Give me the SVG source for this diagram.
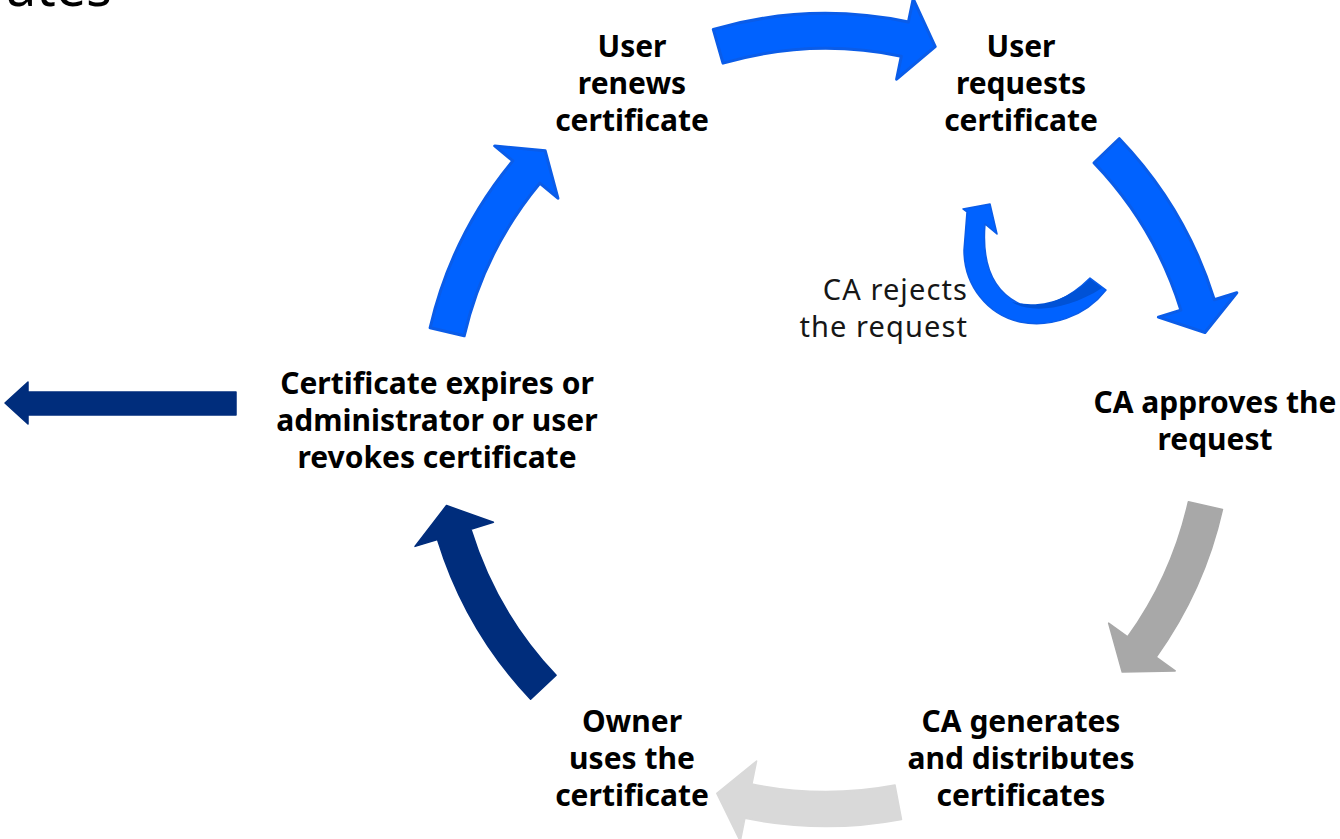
<svg xmlns="http://www.w3.org/2000/svg" width="1340" height="839" viewBox="0 0 1340 839">
  <style>
    .label { font-family: "Noto Sans", "Open Sans", "Liberation Sans", sans-serif; font-weight: 700; font-size: 30px; fill: #000; text-anchor: middle; }
    .note { font-family: "Noto Sans", "Open Sans", "Liberation Sans", sans-serif; font-weight: 400; font-size: 29px; letter-spacing: 1.1px; fill: #161616; text-anchor: end; }
    .title { font-family: "Noto Sans", "Open Sans", "Liberation Sans", sans-serif; font-weight: 400; font-size: 54px; fill: #000; text-anchor: end; }
    .blue { fill: #0062ff; stroke: #0a5ce8; stroke-width: 3; stroke-linejoin: round; }
    .navy { fill: #002d7c; stroke: #002d7c; stroke-width: 1.5; stroke-linejoin: round; }
    .grey { fill: #a8a8a8; stroke: #a8a8a8; stroke-width: 1.5; stroke-linejoin: round; }
    .light { fill: #d9d9d9; stroke: #d9d9d9; stroke-width: 1.5; stroke-linejoin: round; }
  </style>

  <!-- heading, mostly outside the top edge -->
  <text class="title" x="112" y="6">ates</text>

  <!-- curved cycle arrows on a circle centred at (826,420), r = 389 -->
  <g id="connectors">
    <!-- renew -> request -->
    <path class="blue" d="M713.3,29.4 A406.5,406.5 0 0 1 908.4,22.0 L913.2,-1.1 L935.2,46.6 L896.6,79.2 L901.3,56.2 A371.5,371.5 0 0 0 723.0,63.1 Z"/>
    <!-- request -> approve -->
    <path class="blue" d="M1119.4,138.7 A406.5,406.5 0 0 1 1214.3,299.8 L1236.8,292.8 L1205.0,332.5 L1158.4,317.1 L1180.9,310.1 A371.5,371.5 0 0 0 1094.1,162.9 Z"/>
    <!-- approve -> generate -->
    <path class="grey" d="M1222.5,509.4 A406.5,406.5 0 0 1 1156.1,657.2 L1175.2,670.9 L1122.2,672.1 L1108.6,623.1 L1127.7,636.8 A371.5,371.5 0 0 0 1188.4,501.7 Z"/>
    <!-- generate -> use -->
    <path class="light" d="M901.5,819.4 A406.5,406.5 0 0 1 744.9,818.3 L740.3,841.4 L716.8,793.4 L756.6,761.0 L751.9,784.0 A371.5,371.5 0 0 0 895.0,785.0 Z"/>
    <!-- use -> expire/revoke -->
    <path class="navy" d="M530.6,699.3 A406.5,406.5 0 0 1 437.5,539.5 L415.0,546.4 L446.5,505.5 L493.4,522.3 L470.9,529.2 A371.5,371.5 0 0 0 556.1,675.3 Z"/>
    <!-- expire/revoke -> renew -->
    <path class="blue" d="M430.1,327.8 A406.5,406.5 0 0 1 512.8,160.9 L494.7,145.9 L545.2,150.8 L557.9,198.2 L539.8,183.2 A371.5,371.5 0 0 0 464.2,335.8 Z"/>

    <!-- exit arrow on the left -->
    <path class="navy" d="M236,392 L28,392 L28,382 L5,403 L28,424 L28,415 L236,415 Z"/>

    <!-- rejection loop -->
    <path fill="#0062ff" stroke="#0a5ce8" stroke-width="1.5" stroke-linejoin="round" d="M1106,290 C1085,317 1050,328 1020,322 C988,315 964,286 964,250 L967,212 L963,209 L990,204 L997,234 L985,224 C982,260 990,290 1020,304 C1045,312 1072,296 1090,278 Z"/>
    <path fill="#0052d6" d="M1090,279 C1072,296 1045,310 1012,302 C1030,314 1068,310 1102,288 Z"/>
  </g>

  <g id="node-renew">
    <text class="label" x="632" y="57">User</text>
    <text class="label" x="632" y="94">renews</text>
    <text class="label" x="632" y="131">certificate</text>
  </g>
  <g id="node-request">
    <text class="label" x="1021" y="57">User</text>
    <text class="label" x="1021" y="94">requests</text>
    <text class="label" x="1021" y="131">certificate</text>
  </g>
  <g id="node-approve">
    <text class="label" x="1215" y="413">CA approves the</text>
    <text class="label" x="1215" y="450">request</text>
  </g>
  <g id="node-generate">
    <text class="label" x="1021" y="732">CA generates</text>
    <text class="label" x="1021" y="769">and distributes</text>
    <text class="label" x="1021" y="806">certificates</text>
  </g>
  <g id="node-use">
    <text class="label" x="632" y="732">Owner</text>
    <text class="label" x="632" y="769">uses the</text>
    <text class="label" x="632" y="806">certificate</text>
  </g>
  <g id="node-expire">
    <text class="label" x="437" y="394">Certificate expires or</text>
    <text class="label" x="437" y="431">administrator or user</text>
    <text class="label" x="437" y="468">revokes certificate</text>
  </g>
  <g id="node-reject">
    <text class="note" x="968" y="300">CA rejects</text>
    <text class="note" x="968" y="337">the request</text>
  </g>
</svg>
